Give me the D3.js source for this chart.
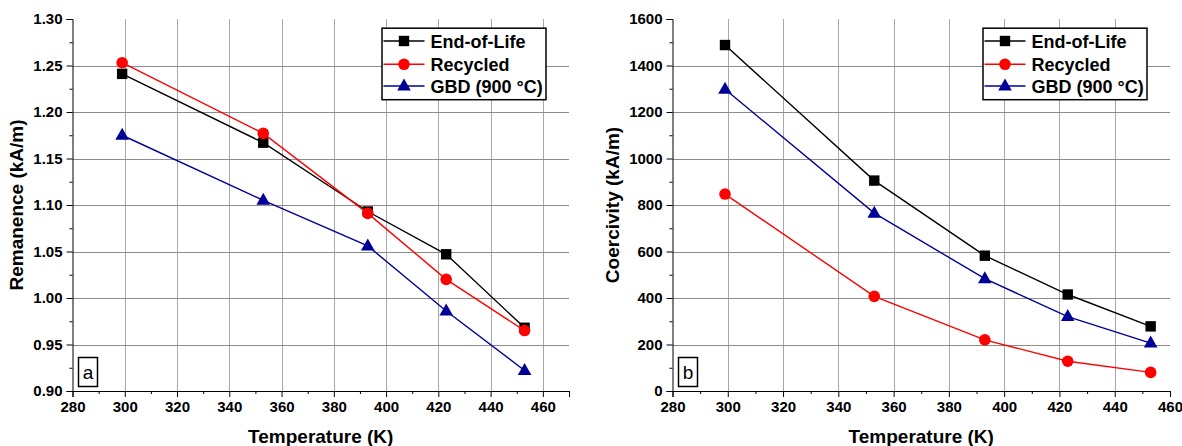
<!DOCTYPE html>
<html>
<head>
<meta charset="utf-8">
<script src="https://cdn.jsdelivr.net/npm/d3@7"></script>
<style>
  html, body { margin: 0; padding: 0; background: #fff; }
  svg { display: block; }
  text { font-family: "Liberation Sans", Arial, sans-serif; }
</style>
</head>
<body>
<svg id="chart" width="1182" height="446"></svg>
<script>
// ---------- data ----------
const temps = [299, 353, 393, 423, 453];
const seriesNames = ["End-of-Life", "Recycled", "GBD (900 °C)"];
const seriesColors = ["#000000", "#ff0000", "#000099"];
const seriesShapes = ["square", "circle", "triangle"];

const remEoL = [1.241, 1.167, 1.093, 1.047, 0.968];
const remRec = [1.253, 1.177, 1.091, 1.020, 0.965];
const remGBD = [1.175, 1.105, 1.056, 0.986, 0.922];

const coeEoL = [1488, 905, 582, 415, 278];
const coeRec = [847, 407, 220, 128, 80];
const coeGBD = [1298, 765, 483, 320, 206];

const xTicksA = [280, 300, 320, 340, 360, 380, 400, 420, 440, 460];
const xTicksB = [280, 300, 320, 340, 360, 380, 400, 420, 440, 460];
const remTicks = [0.90, 0.95, 1.00, 1.05, 1.10, 1.15, 1.20, 1.25, 1.30];
const coeTicks = [0, 200, 400, 600, 800, 1000, 1200, 1400, 1600];

const svg = d3.select("#chart");

function marker(g, shape, color, cx, cy) {
  if (shape === "square") {
    g.append("rect").attr("x", cx - 5.2).attr("y", cy - 5.2)
      .attr("width", 10.4).attr("height", 10.4).attr("fill", color);
  } else if (shape === "circle") {
    g.append("circle").attr("cx", cx).attr("cy", cy).attr("r", 5.8).attr("fill", color);
  } else {
    g.append("path")
      .attr("d", `M${cx},${cy - 7.5} L${cx + 6.8},${cy + 4.5} L${cx - 6.8},${cy + 4.5} Z`)
      .attr("fill", color);
  }
}

function panel(o) {
  const g = svg.append("g");
  const x = d3.scaleLinear().domain(o.xDomain).range(o.xRange);
  const y = d3.scaleLinear().domain(o.yDomain).range([391, 19]);
  const [x0, x1] = o.xRange;

  // grid
  const vg = o.xTicks.filter(t => t > o.xDomain[0] && t < o.xDomain[1]);
  g.selectAll(".vg").data(vg).enter().append("line")
    .attr("x1", d => Math.round(x(d)) + 0.5).attr("x2", d => Math.round(x(d)) + 0.5)
    .attr("y1", 19).attr("y2", 391)
    .attr("stroke", "#a8a8a8").attr("stroke-width", 1);
  const hg = o.yTicks.filter(t => t > o.yDomain[0] + 1e-9 && t < o.yDomain[1] - 1e-9);
  g.selectAll(".hg").data(hg).enter().append("line")
    .attr("x1", x0).attr("x2", x1)
    .attr("y1", d => Math.round(y(d)) + 0.5).attr("y2", d => Math.round(y(d)) + 0.5)
    .attr("stroke", "#8c8c8c").attr("stroke-width", 1);

  // axes
  const xMinor = d3.range(o.xDomain[0] + 10, o.xDomain[1] + 0.1, 20);
  const xAxisMinor = d3.axisBottom(x).tickValues(xMinor).tickSize(3).tickFormat("");
  const xAxis = d3.axisBottom(x).tickValues(o.xTicks).tickSize(6).tickPadding(4).tickFormat(d3.format("d"));
  const gx = g.append("g").attr("transform", "translate(0,391)");
  gx.call(xAxis);
  g.append("g").attr("transform", "translate(0,391)").call(xAxisMinor).select(".domain").remove();
  gx.selectAll("text").attr("font-size", 15).attr("font-weight", "bold")
    .attr("font-family", "Liberation Sans, Arial, sans-serif").attr("fill", "#000");

  const yMinor = o.yTicks.slice(0, -1).map((t, i) => (t + o.yTicks[i + 1]) / 2);
  const yAxis = d3.axisLeft(y).tickValues(o.yTicks).tickSize(6).tickPadding(4).tickFormat(o.yFormat);
  const yAxisMinor = d3.axisLeft(y).tickValues(yMinor).tickSize(3).tickFormat("");
  const gy = g.append("g").attr("transform", `translate(${x0},0)`);
  gy.call(yAxis);
  g.append("g").attr("transform", `translate(${x0},0)`).call(yAxisMinor).select(".domain").remove();
  gy.selectAll("text").attr("font-size", 15).attr("font-weight", "bold")
    .attr("font-family", "Liberation Sans, Arial, sans-serif").attr("fill", "#000");
  g.selectAll(".domain, .tick line").attr("stroke", "#000");

  // series
  o.series.forEach((vals, i) => {
    const pts = temps.map((t, j) => [x(t), y(vals[j])]);
    g.append("path").attr("d", d3.line()(pts)).attr("fill", "none")
      .attr("stroke", seriesColors[i]).attr("stroke-width", 1.4);
    const mg = g.append("g");
    pts.forEach(p => marker(mg, seriesShapes[i], seriesColors[i], p[0], p[1]));
  });

  // axis titles
  g.append("text").attr("x", (x0 + x1) / 2).attr("y", 443)
    .attr("text-anchor", "middle").attr("font-size", 19).attr("font-weight", "bold")
    .text("Temperature (K)");
  g.append("text")
    .attr("transform", `translate(${o.yTitleX},${(19 + 391) / 2}) rotate(-90)`)
    .attr("text-anchor", "middle").attr("font-size", 19).attr("font-weight", "bold")
    .text(o.yTitle);

  // legend
  const lx = x1 - 187.5, ly = 27.7;
  const lg = g.append("g");
  lg.append("rect").attr("x", lx + 0.5).attr("y", ly + 0.5).attr("width", 164).attr("height", 71.5)
    .attr("fill", "#fff").attr("stroke", "#000").attr("stroke-width", 1.5);
  const rows = [13.3, 36.6, 58.3];
  seriesNames.forEach((name, i) => {
    const ry = ly + rows[i];
    lg.append("line").attr("x1", lx + 2).attr("x2", lx + 43).attr("y1", ry).attr("y2", ry)
      .attr("stroke", seriesColors[i]).attr("stroke-width", 1.4);
    marker(lg, seriesShapes[i], seriesColors[i], lx + 22.5, ry);
    lg.append("text").attr("x", lx + 49).attr("y", ry + 6.5).attr("font-size", 18)
      .attr("font-weight", "bold").text(name);
  });

  // panel label
  const bx = x0 + 6;
  g.append("rect").attr("x", bx).attr("y", 357.5).attr("width", 19).attr("height", 29)
    .attr("fill", "#fff").attr("stroke", "#000").attr("stroke-width", 1.5);
  g.append("text").attr("x", bx + 9.5).attr("y", 379).attr("text-anchor", "middle")
    .attr("font-size", 19).text(o.label);
}

panel({
  xDomain: [280, 470], xRange: [72.5, 569], xTicks: xTicksA,
  yDomain: [0.90, 1.30], yTicks: remTicks, yFormat: d3.format(".2f"),
  series: [remEoL, remRec, remGBD],
  yTitle: "Remanence (kA/m)", yTitleX: 23, label: "a"
});
panel({
  xDomain: [280, 460], xRange: [672.5, 1170], xTicks: xTicksB,
  yDomain: [0, 1600], yTicks: coeTicks, yFormat: d3.format("d"),
  series: [coeEoL, coeRec, coeGBD],
  yTitle: "Coercivity (kA/m)", yTitleX: 619, label: "b"
});
</script>
</body>
</html>
